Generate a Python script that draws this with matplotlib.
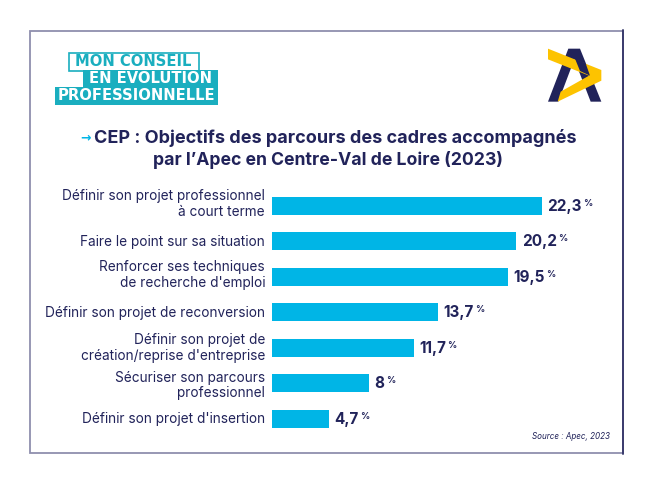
import matplotlib
matplotlib.use("Agg")
import numpy as np
import matplotlib.pyplot as plt
from matplotlib.patches import Rectangle, Polygon
from matplotlib.transforms import ScaledTranslation

categories = ["Définir son projet professionnel\nà court terme",
              "Faire le point sur sa situation",
              "Renforcer ses techniques\nde recherche d'emploi",
              "Définir son projet de reconversion",
              "Définir son projet de\ncréation/reprise d'entreprise",
              "Sécuriser son parcours\nprofessionnel",
              "Définir son projet d'insertion"]
values = [22.3, 20.2, 19.5, 13.7, 11.7, 8, 4.7]
value_labels = ["22,3", "20,2", "19,5", "13,7", "11,7", "8", "4,7"]

NAVY = "#21235a"
CYAN = "#00b5e6"
TEAL = "#1aaebf"
YELLOW = "#fdc300"
W, H = 650, 483

plt.rcParams['font.family'] = ['Inter', 'DejaVu Sans']

fig = plt.figure(figsize=(W / 100, H / 100), dpi=100)

# Pixel canvas for frame, logos and title
bg = fig.add_axes([0, 0, 1, 1])
bg.set_xlim(0, W)
bg.set_ylim(H, 0)
bg.axis("off")
bg.add_patch(Rectangle((30, 30.5), 593, 422.5, fc="white", ec="#8f8fae", lw=1.3))
bg.plot([623, 623], [30, 453.5], color=NAVY, lw=1.1)

# Logo "Mon conseil"
bg.add_patch(Rectangle((68.5, 52.5), 130, 18, fc="white", ec=TEAL, lw=1.2))
bg.add_patch(Rectangle((83, 70), 135, 18, fc=TEAL, ec="none"))
bg.add_patch(Rectangle((55, 87), 163, 18, fc=TEAL, ec="none"))
logo = dict(fontsize=10.6, fontweight="bold", ha="center", va="center", family="DejaVu Sans")
bg.text(133.5, 61.5, "MON CONSEIL", color=TEAL, **logo)
bg.text(150.5, 78.5, "EN ÉVOLUTION", color="white", **logo)
bg.text(136.5, 96, "PROFESSIONNELLE", color="white", **logo)

# Logo Apec
def apec(points):
    return [(520 + x / 3, 30 + y / 3) for x, y in points]

bg.add_patch(Polygon(apec([(145, 56), (180, 56), (244, 215), (212, 215), (163, 88), (115, 215), (84, 215)]), fc=NAVY, ec="none"))
bg.add_patch(Polygon(apec([(84, 56), (244, 120), (244, 152), (113, 215), (122, 185), (207, 137), (84, 88)]), fc=YELLOW, ec="none"))
bg.add_patch(Polygon(apec([(165, 86), (197, 100), (210, 137), (180, 123)]), fc=NAVY, ec="none"))

# Title
bg.text(85.5, 138, "→", color=CYAN, fontsize=9, fontweight="bold", ha="center", va="center", family="DejaVu Sans")
bg.text(335.5, 138, "CEP : Objectifs des parcours des cadres accompagnés", color=NAVY, fontsize=13, fontweight="bold", ha="center", va="center")
bg.text(328, 160, "par l’Apec en Centre-Val de Loire (2023)", color=NAVY, fontsize=12.7, fontweight="bold", ha="center", va="center")
bg.text(610, 436.5, "Source : Apec, 2023", color=NAVY, fontsize=5.8, style="italic", ha="right", va="center")

# Bars
ax = fig.add_axes([272 / W, 1 - 436.5 / H, 360 / W, 248.5 / H])
ax.patch.set_alpha(0)
y = np.arange(len(values))
ax.barh(y, values, height=18 / 35.5, color=CYAN)
ax.set_xlim(0, 360 / 12.1)
ax.set_ylim(6.5, -0.5)
ax.set_xticks([])
ax.set_yticks(y, categories, color=NAVY, fontsize=9.8, linespacing=1.14)
ax.tick_params(axis="y", length=0, pad=5)
for side in ax.spines.values():
    side.set_visible(False)

# Labels do not sit exactly on the bar centres in the original
for lab, up in zip(ax.get_yticklabels(), [4, 1, 4, 1, 2, 0, 1]):
    lab.set_transform(lab.get_transform() + ScaledTranslation(0, up / 100, fig.dpi_scale_trans))

fig.canvas.draw()
renderer = fig.canvas.get_renderer()
for yi, v, lab in zip(y, values, value_labels):
    t = ax.annotate(lab, (v, yi), xytext=(4, -0.5), textcoords="offset points", color=NAVY,
                    fontsize=11, fontweight="bold", ha="left", va="center")
    box = t.get_window_extent(renderer)
    ax.annotate("%", (box.x1 + 1.5, box.y1), xycoords="figure pixels", color=NAVY,
                fontsize=6.5, fontweight="bold", ha="left", va="top")

fig.savefig("out.png", dpi=100)
